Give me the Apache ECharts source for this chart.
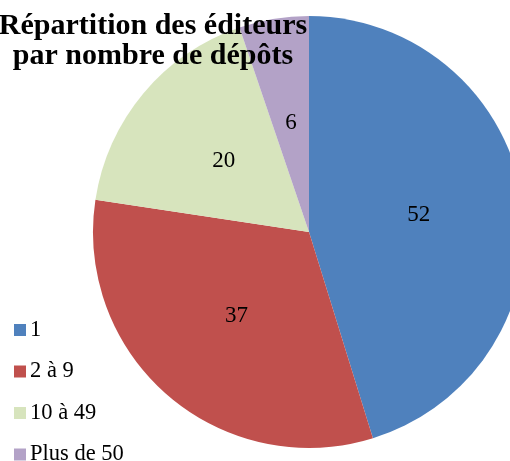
<!DOCTYPE html>
<html>
<head>
<meta charset="utf-8">
<script src="https://cdn.jsdelivr.net/npm/echarts@6/dist/echarts.min.js"></script>
<style>
html,body{margin:0;padding:0;background:#fff;}
#chart{width:510px;height:461px;}
</style>
</head>
<body>
<div id="chart"></div>
<script>
const categories = ['1', '2 à 9', '10 à 49', 'Plus de 50'];
const values = [52, 37, 20, 6];
const colors = ['#4F81BD', '#C0504D', '#D7E4BD', '#B3A2C7'];
const titleText = 'Répartition des éditeurs\npar nombre de dépôts';

const font = '"Liberation Serif", "DejaVu Serif", serif';
const chart = echarts.init(document.getElementById('chart'), null, {renderer: 'canvas'});
chart.setOption({
  animation: false,
  backgroundColor: '#fff',
  title: {
    text: titleText,
    left: 153,
    top: 11,
    textAlign: 'center',
    padding: 0,
    textStyle: {
      fontFamily: font,
      fontWeight: 'bold',
      fontSize: 30,
      lineHeight: 30,
      color: '#000'
    },
    z: 10
  },
  legend: categories.map((c, i) => ({
    orient: 'vertical',
    left: 14,
    top: 318.5 + i * 41.5,
    padding: 0,
    itemWidth: 12,
    itemHeight: 12,
    icon: 'rect',
    data: [c],
    textStyle: {
      fontFamily: font,
      fontSize: 22.5,
      lineHeight: 23,
      color: '#000',
      padding: [0, 0, 0, -1]
    }
  })),
  series: [{
    type: 'pie',
    center: [309, 232],
    radius: 216,
    startAngle: 90,
    clockwise: true,
    silent: true,
    data: categories.map((c, i) => ({name: c, value: values[i], itemStyle: {color: colors[i]}})),
    label: {
      show: true,
      position: 'inside',
      formatter: '{c}',
      fontFamily: font,
      fontSize: 23,
      color: '#000'
    },
    labelLine: {show: false},
    itemStyle: {borderWidth: 0}
  }]
});
</script>
</body>
</html>
